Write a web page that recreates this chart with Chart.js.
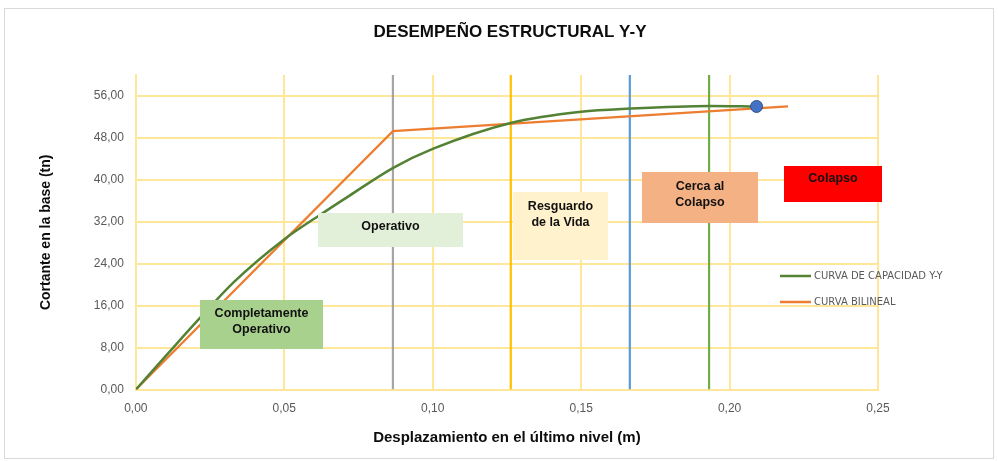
<!DOCTYPE html>
<html>
<head>
<meta charset="utf-8">
<script src="https://cdn.jsdelivr.net/npm/chart.js@4.4.0/dist/chart.umd.min.js"></script>
<style>
  html, body { margin: 0; padding: 0; background: #fff; }
  #wrap { width: 998px; height: 461px; }
</style>
</head>
<body>
<div id="wrap"><canvas id="chart" width="998" height="461"></canvas></div>
<script>
// curva de capacidad (pushover) Y-Y
var capX = [0, 0.011, 0.022, 0.033, 0.0496, 0.062, 0.072, 0.0867, 0.100, 0.1266, 0.150, 0.1664, 0.1934, 0.2091];
var capY = [0, 7.0, 13.9, 20.5, 28.5, 33.3, 37.0, 42.3, 45.9, 50.9, 53.0, 53.6, 54.1, 54.0];

// curva bilineal
var bilX = [0, 0.0866, 0.2197];
var bilY = [0, 49.3, 54.0];

// limites de desempeño (desplazamientos)
var limitX = [0.0866, 0.1263, 0.1664, 0.1931];
var limitColors = ['#A5A5A5', '#FFC000', '#5B9BD5', '#70AD47'];

// punto de desempeño
var perfX = [0.2091];
var perfY = [54.0];

var xMin = 0, xMax = 0.25, xStep = 0.05;
var yMin = 0, yMax = 60, yStep = 8, yLastTick = 56;

var titleText = 'DESEMPEÑO ESTRUCTURAL Y-Y';

function toPts(xs, ys) {
    return xs.map(function(x, i) { return {x: x, y: ys[i]}; });
}
function fmt(v) {
    return Number(v).toFixed(2).replace('.', ',');
}

var datasets = [];
datasets.push({
    label: 'Punto',
    data: toPts(perfX, perfY),
    pointRadius: 6,
    pointBackgroundColor: '#4472C4',
    pointBorderColor: '#2F528F',
    pointBorderWidth: 1,
    showLine: false
});
datasets.push({
    label: 'CURVA DE CAPACIDAD Y-Y',
    data: toPts(capX, capY),
    showLine: true,
    borderColor: '#548235',
    borderWidth: 2.5,
    pointRadius: 0,
    cubicInterpolationMode: 'monotone'
});
datasets.push({
    label: 'CURVA BILINEAL',
    data: toPts(bilX, bilY),
    showLine: true,
    borderColor: '#ED7D31',
    borderWidth: 2.2,
    pointRadius: 0,
    tension: 0
});
limitX.forEach(function(x, i) {
    datasets.push({
        label: 'limite' + i,
        data: [{x: x, y: yMin}, {x: x, y: yMax}],
        showLine: true,
        borderColor: limitColors[i],
        borderWidth: 2.2,
        pointRadius: 0
    });
});

// cuadros de texto de los niveles de desempeño
var notes = [
    {lines: ['Completamente', 'Operativo'], box: [200, 300, 123, 49], fill: '#A9D18E', ty: [314, 330]},
    {lines: ['Operativo'], box: [318, 213, 145, 34], fill: '#E2F0D9', ty: [227]},
    {lines: ['Resguardo', 'de la Vida'], box: [513, 192, 95, 68], fill: '#FFF2CC', ty: [207, 223]},
    {lines: ['Cerca al', 'Colapso'], box: [642, 172, 116, 51], fill: '#F4B183', ty: [187, 203]},
    {lines: ['Colapso'], box: [784, 166, 98, 36], fill: '#FF0000', ty: [179]}
];

var extras = {
    id: 'extras',
    beforeDraw: function(chart) {
        var ctx = chart.ctx;
        ctx.save();
        ctx.fillStyle = '#fff';
        ctx.fillRect(0, 0, chart.width, chart.height);
        ctx.strokeStyle = '#D9D9D9';
        ctx.lineWidth = 1;
        ctx.strokeRect(4.5, 8.5, chart.width - 9, chart.height - 11);
        // titulo
        ctx.fillStyle = '#0D0D0D';
        ctx.font = 'bold 17px "Liberation Sans", Arial, sans-serif';
        ctx.textAlign = 'center';
        ctx.textBaseline = 'middle';
        ctx.fillText(titleText, 510, 32);
        ctx.restore();
    },
    afterDatasetsDraw: function(chart) {
        var ctx = chart.ctx;
        ctx.save();
        notes.forEach(function(n) {
            ctx.fillStyle = n.fill;
            ctx.fillRect(n.box[0], n.box[1], n.box[2], n.box[3]);
            ctx.fillStyle = '#111';
            ctx.font = 'bold 12.5px "Liberation Sans", Arial, sans-serif';
            ctx.textAlign = 'center';
            ctx.textBaseline = 'middle';
            n.lines.forEach(function(t, j) {
                ctx.fillText(t, n.box[0] + n.box[2] / 2, n.ty[j]);
            });
        });
        // leyenda
        var leg = [datasets[1], datasets[2]];
        ctx.font = '10px "DejaVu Sans", sans-serif';
        ctx.textAlign = 'left';
        ctx.textBaseline = 'middle';
        leg.forEach(function(d, i) {
            var y = 276 + i * 26;
            ctx.strokeStyle = d.borderColor;
            ctx.lineWidth = 2.5;
            ctx.beginPath();
            ctx.moveTo(780, y);
            ctx.lineTo(811, y);
            ctx.stroke();
            ctx.fillStyle = '#595959';
            ctx.fillText(d.label, 814, y);
        });
        ctx.restore();
    }
};

var gridColor = '#FFE699';

new Chart(document.getElementById('chart'), {
    type: 'scatter',
    data: {datasets: datasets},
    options: {
        responsive: false,
        animation: false,
        layout: {padding: {left: 38, right: 120, top: 75, bottom: 14}},
        plugins: {
            legend: {display: false},
            tooltip: {enabled: false},
            title: {display: false}
        },
        scales: {
            x: {
                type: 'linear',
                min: xMin,
                max: xMax,
                ticks: {
                    stepSize: xStep,
                    color: '#595959',
                    font: {family: '"Liberation Sans", Arial, sans-serif', size: 12},
                    padding: 12,
                    callback: function(v) { return fmt(v); }
                },
                grid: {color: gridColor, lineWidth: 2, drawTicks: false},
                border: {color: gridColor, width: 2},
                title: {
                    display: true,
                    text: 'Desplazamiento en el último nivel (m)',
                    color: '#0D0D0D',
                    font: {family: '"Liberation Sans", Arial, sans-serif', size: 15, weight: 'bold'},
                    padding: {top: 1, bottom: 0}
                }
            },
            y: {
                type: 'linear',
                min: yMin,
                max: yMax,
                afterBuildTicks: function(scale) {
                    scale.ticks = scale.ticks.filter(function(t) { return t.value <= yLastTick; });
                },
                ticks: {
                    stepSize: yStep,
                    color: '#595959',
                    font: {family: '"Liberation Sans", Arial, sans-serif', size: 12},
                    padding: 12,
                    callback: function(v) { return fmt(v); }
                },
                grid: {color: gridColor, lineWidth: 2, drawTicks: false},
                border: {color: gridColor, width: 2},
                title: {
                    display: true,
                    text: 'Cortante en la base (tn)',
                    color: '#0D0D0D',
                    font: {family: '"Liberation Sans", Arial, sans-serif', size: 14, weight: 'bold'},
                    padding: {top: 0, bottom: 27}
                }
            }
        }
    },
    plugins: [extras]
});
</script>
</body>
</html>
